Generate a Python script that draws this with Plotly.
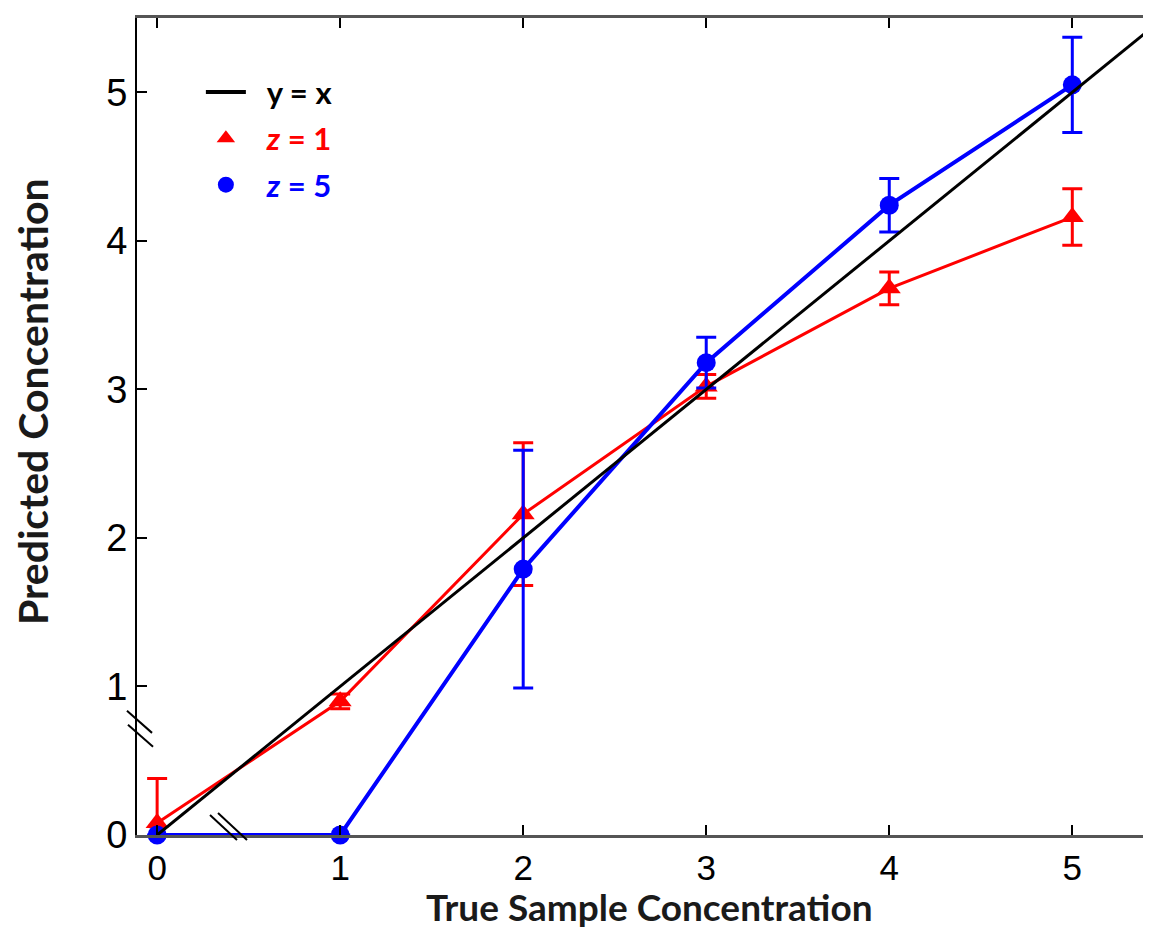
import plotly.graph_objects as go

x_vals = [0, 1, 2, 3, 4, 5]
z1_pred = [0.08, 0.90, 2.16, 3.02, 3.68, 4.16]
z1_err = [0.30, 0.05, 0.48, 0.08, 0.11, 0.19]
z5_pred = [0.0, 0.0, 1.79, 3.18, 4.24, 5.05]
z5_err = [0.0, 0.0, 0.80, 0.17, 0.18, 0.32]
ident_x = [0, 5.45]
x_ticks = [0, 1, 2, 3, 4, 5]
y_ticks = [0, 1, 2, 3, 4, 5]

RED = "#ff0000"
BLUE = "#0000ff"
TITLE_FONT = "Lato, Open Sans, sans-serif"
TICK_FONT = "Liberation Sans, Arial, sans-serif"
SP = "&nbsp;&nbsp;"

fig = go.Figure()

fig.add_trace(go.Scatter(
    x=x_vals, y=z1_pred, mode="lines+markers",
    line=dict(color=RED, width=3),
    marker=dict(symbol="triangle-up", size=20, color=RED),
    error_y=dict(type="data", array=z1_err, color=RED, thickness=3, width=10),
    showlegend=False, cliponaxis=False))

fig.add_trace(go.Scatter(
    x=x_vals, y=z5_pred, mode="lines+markers",
    line=dict(color=BLUE, width=4),
    marker=dict(symbol="circle", size=19, color=BLUE),
    error_y=dict(type="data", array=z5_err, color=BLUE, thickness=3, width=10),
    showlegend=False, cliponaxis=False))

fig.add_trace(go.Scatter(
    x=ident_x, y=ident_x, mode="lines",
    line=dict(color="black", width=3),
    showlegend=False, cliponaxis=False))

# legend entries
fig.add_trace(go.Scatter(x=[None], y=[None], mode="lines",
                         line=dict(color="black", width=4), legendgroup="a",
                         name=SP + "<b>y = x</b>"))
fig.add_trace(go.Scatter(x=[None], y=[None], mode="markers", legendgroup="b",
                         marker=dict(symbol="triangle-up", size=19, color=RED),
                         name=SP + "<b><span style='color:#ff0000'><i>z</i> = 1</span></b>"))
fig.add_trace(go.Scatter(x=[None], y=[None], mode="markers", legendgroup="c",
                         marker=dict(symbol="circle", size=19, color=BLUE),
                         name=SP + "<b><span style='color:#0000ff'><i>z</i> = 5</span></b>"))

# axis break marks (decorations, paper coordinates)
brk = dict(type="line", xref="paper", yref="paper", line=dict(color="black", width=2))
shapes = [
    dict(brk, x0=-0.0099, y0=0.152, x1=0.0148, y1=0.125),
    dict(brk, x0=-0.0089, y0=0.135, x1=0.0158, y1=0.108),
    dict(brk, x0=0.072, y0=0.0244, x1=0.0986, y1=-0.0061),
    dict(brk, x0=0.0799, y0=0.0268, x1=0.1085, y1=-0.0061),
]

annotations = [
    dict(text="<b>Predicted Concentration</b>", xref="paper", yref="paper",
         x=0, y=0.530, xanchor="center", yanchor="middle", xshift=-104,
         textangle=-90, showarrow=False,
         font=dict(family=TITLE_FONT, size=41, color="#1a1a1a")),
    dict(text="<b>True Sample Concentration</b>", xref="paper", yref="paper",
         x=0.505, y=-0.118, xanchor="center", yanchor="bottom",
         showarrow=False,
         font=dict(family=TITLE_FONT, size=37, color="#1a1a1a")),
]

fig.update_layout(
    width=1151, height=932,
    margin=dict(l=129, r=8, t=7, b=105),
    paper_bgcolor="white", plot_bgcolor="white",
    shapes=shapes, annotations=annotations,
    showlegend=True,
    legend=dict(x=0.063, y=0.942, xanchor="left", yanchor="top",
                font=dict(family=TITLE_FONT, size=31, color="black"),
                bgcolor="rgba(0,0,0,0)", tracegroupgap=3, itemwidth=40),
    xaxis=dict(range=[-0.11, 5.43], tickvals=x_ticks,
               ticks="inside", ticklen=10, tickwidth=2, tickcolor="black",
               showline=True, linecolor="#555555", linewidth=3, mirror="ticks",
               showgrid=False, zeroline=False,
               tickfont=dict(family=TICK_FONT, size=35, color="black")),
    yaxis=dict(range=[0, 5.5], tickvals=y_ticks,
               ticks="inside", ticklen=10, tickwidth=2, tickcolor="black",
               showline=True, linecolor="black", linewidth=2, mirror=False,
               showgrid=False, zeroline=False,
               tickfont=dict(family=TICK_FONT, size=38, color="black")),
)

fig.write_html("out.html")
